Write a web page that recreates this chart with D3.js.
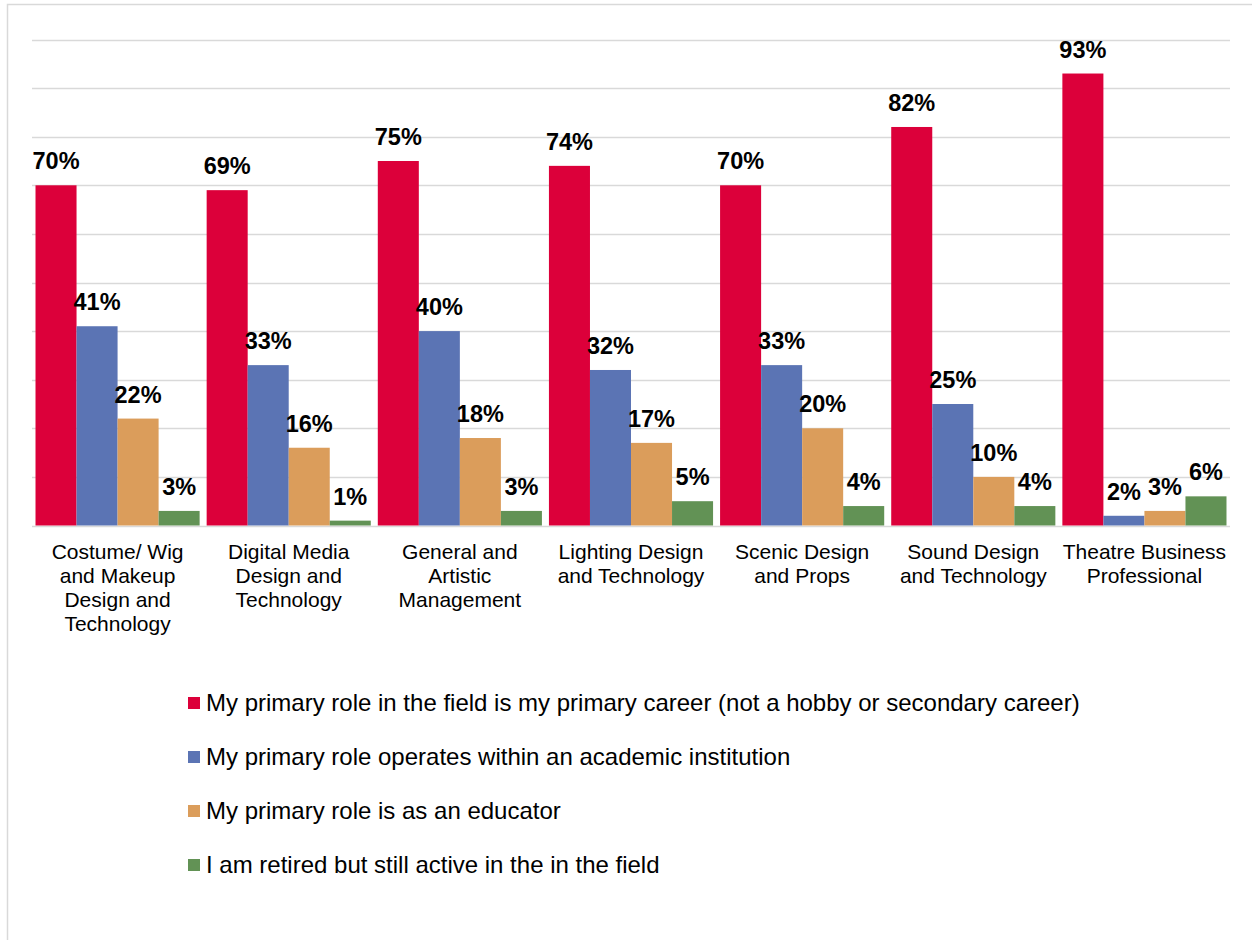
<!DOCTYPE html>
<html>
<head>
<meta charset="utf-8">
<script src="https://cdn.jsdelivr.net/npm/d3@7"></script>
<style>
  html, body { margin: 0; padding: 0; background: #fff; }
  svg { display: block; font-family: "Liberation Sans", Arial, sans-serif; }
</style>
</head>
<body>
<svg id="chart" width="1252" height="940"></svg>
<script>
// Survey categories (each entry is one wrapped axis label)
const categories = [
  ["Costume/ Wig", "and Makeup", "Design and", "Technology"],
  ["Digital Media", "Design and", "Technology"],
  ["General and", "Artistic", "Management"],
  ["Lighting Design", "and Technology"],
  ["Scenic Design", "and Props"],
  ["Sound Design", "and Technology"],
  ["Theatre Business", "Professional"]
];

const seriesNames = [
  "My primary role in the field is my primary career (not a hobby or secondary career)",
  "My primary role operates within an academic institution",
  "My primary role is as an educator",
  "I am retired but still active in the in the field"
];

// Percent of respondents per category, one array per series
const primaryCareer = [70, 69, 75, 74, 70, 82, 93];
const academicInstitution = [41, 33, 40, 32, 33, 25, 2];
const educator = [22, 16, 18, 17, 20, 10, 3];
const retiredActive = [3, 1, 3, 5, 4, 4, 6];

const gridTicks = [0, 10, 20, 30, 40, 50, 60, 70, 80, 90, 100];

const seriesValues = [primaryCareer, academicInstitution, educator, retiredActive];
const colors = ["#dc003a", "#5b74b4", "#db9d5b", "#629255"];

const svg = d3.select("#chart");

// Outer chart frame
svg.append("rect")
  .attr("x", 7.5).attr("y", 4.5)
  .attr("width", 1300).attr("height", 1000)
  .attr("fill", "none").attr("stroke", "#d9d9d9").attr("stroke-width", 1.5);

const plot = { left: 32, right: 1230, top: 39.5, bottom: 525.5 };

const x0 = d3.scaleBand()
  .domain(d3.range(categories.length))
  .range([plot.left, plot.right])
  .paddingInner(0.041)
  .paddingOuter(0.0205);

const x1 = d3.scaleBand()
  .domain(d3.range(seriesValues.length))
  .range([0, x0.bandwidth()])
  .padding(0);

const y = d3.scaleLinear().domain([0, 100]).range([plot.bottom, plot.top]);

// Horizontal gridlines
svg.append("g")
  .selectAll("line")
  .data(gridTicks)
  .join("line")
  .attr("x1", plot.left).attr("x2", plot.right)
  .attr("y1", d => Math.round(y(d)) + 0.5).attr("y2", d => Math.round(y(d)) + 0.5)
  .attr("stroke", "#d9d9d9").attr("stroke-width", 1.5);

// Grouped bars
const groups = svg.append("g")
  .selectAll("g")
  .data(categories.map((c, i) => i))
  .join("g")
  .attr("transform", i => `translate(${x0(i)},0)`);

groups.selectAll("rect")
  .data(i => seriesValues.map((s, k) => ({ k, v: s[i] })))
  .join("rect")
  .attr("x", d => x1(d.k))
  .attr("width", x1.bandwidth())
  .attr("y", d => y(d.v))
  .attr("height", d => y(0) - y(d.v))
  .attr("fill", d => colors[d.k]);

// Value labels above bars
groups.selectAll("text.val")
  .data(i => seriesValues.map((s, k) => ({ k, v: s[i] })))
  .join("text")
  .attr("class", "val")
  .attr("x", d => x1(d.k) + x1.bandwidth() / 2)
  .attr("y", d => y(d.v) - 16)
  .attr("text-anchor", "middle")
  .attr("font-size", 23.5)
  .attr("font-weight", "bold")
  .attr("fill", "#000")
  .text(d => d.v + "%");

// Category labels under the axis
const catLabels = svg.append("g")
  .selectAll("text")
  .data(categories)
  .join("text")
  .attr("x", (d, i) => x0(i) + x0.bandwidth() / 2)
  .attr("y", 559)
  .attr("text-anchor", "middle")
  .attr("font-size", 21)
  .attr("fill", "#000");

catLabels.selectAll("tspan")
  .data(d => d)
  .join("tspan")
  .attr("x", function () { return this.parentNode.getAttribute("x"); })
  .attr("dy", (d, i) => i === 0 ? 0 : 24)
  .text(d => d);

// Legend
const legend = svg.append("g")
  .selectAll("g")
  .data(seriesNames)
  .join("g")
  .attr("transform", (d, i) => `translate(188,${697 + i * 54})`);

legend.append("rect")
  .attr("width", 12).attr("height", 12)
  .attr("fill", (d, i) => colors[i]);

legend.append("text")
  .attr("x", 18).attr("y", 13.5)
  .attr("font-size", 24)
  .attr("fill", "#000")
  .text(d => d);
</script>
</body>
</html>
